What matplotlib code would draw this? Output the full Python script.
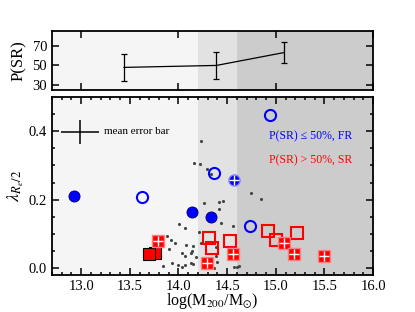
import matplotlib
matplotlib.use('Agg')
import matplotlib.pyplot as plt
import numpy as np

plt.rcParams['font.family'] = ['Liberation Serif', 'DejaVu Serif']
plt.rcParams['mathtext.fontset'] = 'stix'

# top panel: P(SR) per mass bin
psr_x = [13.44, 14.39, 15.08]
psr_y = [48, 50, 63]
psr_err = [14, 13.5, 11]

# bottom panel
fr_filled_x = [12.93, 14.14, 14.33]
fr_filled_y = [0.210, 0.163, 0.149]
fr_open_x = [13.63, 14.36, 14.94, 14.74]
fr_open_y = [0.208, 0.279, 0.447, 0.124]
fr_plus_x = [14.57]
fr_plus_y = [0.257]

sr_open_x = [14.92, 15.00, 15.22, 14.53, 14.31, 14.34]
sr_open_y = [0.109, 0.082, 0.104, 0.079, 0.089, 0.060]
sr_plus_x = [15.08, 15.19, 15.50, 14.56, 14.29, 13.79]
sr_plus_y = [0.074, 0.040, 0.036, 0.041, 0.016, 0.079]
sr_filled_x = [13.76, 13.70]
sr_filled_y = [0.043, 0.041]

dots_x = [14.228, 14.159, 14.220, 14.295, 14.330, 14.744, 14.850, 14.261, 14.421,
          14.455, 14.421, 14.432, 14.560, 14.006, 14.067, 14.210, 13.877, 13.809,
          13.928, 13.962, 14.074, 14.149, 14.231, 13.904, 14.142, 14.040, 14.067,
          14.125, 14.180, 14.381, 14.384, 14.397, 13.932, 13.999, 14.040, 14.064,
          14.125, 14.149, 13.843, 14.330, 14.363, 14.568, 14.619, 14.603]
dots_y = [0.371, 0.306, 0.305, 0.290, 0.274, 0.221, 0.202, 0.190, 0.192,
          0.195, 0.174, 0.132, 0.124, 0.128, 0.118, 0.105, 0.094, 0.082,
          0.083, 0.073, 0.068, 0.066, 0.074, 0.055, 0.051, 0.045, 0.035,
          0.043, 0.034, 0.063, 0.035, 0.019, 0.015, 0.010, 0.004, 0.009,
          0.016, 0.012, 0.006, 0.002, -0.001, 0.002, 0.007, 0.003]

mean_err_x, mean_err_y = 12.99, 0.398
mean_err_dx, mean_err_dy = 0.195, 0.034

bins = [14.2, 14.6]
blue = '#0000ff'
red = '#ff0000'

fig = plt.figure(figsize=(4.15, 3.12), dpi=100)
ax1 = fig.add_axes([0.1253, 0.7115, 0.7737, 0.1891])
ax2 = fig.add_axes([0.1253, 0.1186, 0.7737, 0.5704])

for ax in (ax1, ax2):
    ax.set_facecolor('#f5f5f5')
    ax.axvspan(bins[0], bins[1], color='#e2e2e2', lw=0, zorder=0)
    ax.axvspan(bins[1], 16.0, color='#cccccc', lw=0, zorder=0)
    ax.set_xlim(12.7, 16.0)
    for s in ax.spines.values():
        s.set_linewidth(1.3)
    ax.tick_params(which='both', direction='in', top=True, right=True,
                   labelsize=10.5, width=1.1)
    ax.tick_params(which='major', length=5)
    ax.tick_params(which='minor', length=2.5)

# top panel
ax1.errorbar(psr_x, psr_y, yerr=psr_err, color='k', lw=0.9, capsize=2.5,
             elinewidth=0.9, capthick=0.9)
ax1.set_ylim(25, 85)
ax1.set_yticks([30, 50, 70])
ax1.set_xticks([13, 14, 15, 16])
ax1.tick_params(labelbottom=False)
ax1.set_ylabel('P(SR)', fontsize=12, labelpad=4)

# bottom panel
ax2.scatter(dots_x, dots_y, s=5, color='#444444', zorder=2, lw=0)

ax2.plot(sr_filled_x, sr_filled_y, 's', ms=8.5, mfc=red, mec='k', mew=0.8, ls='none', zorder=3)
ax2.plot(sr_open_x, sr_open_y, 's', ms=8.5, mfc='none', mec=red, mew=1.5, ls='none', zorder=3)
ax2.plot(sr_plus_x, sr_plus_y, 's', ms=8.5, mfc=red, mec='#ff8080', mew=1.0, ls='none', zorder=3)
ax2.plot(sr_plus_x, sr_plus_y, '+', ms=7, mec='white', mew=1.0, ls='none', zorder=4)

ax2.plot(fr_filled_x, fr_filled_y, 'o', ms=8, mfc=blue, mec='#000060', mew=0.6, ls='none', zorder=3)
ax2.plot(fr_open_x, fr_open_y, 'o', ms=8, mfc='none', mec=blue, mew=1.5, ls='none', zorder=3)
ax2.plot(fr_plus_x, fr_plus_y, 'o', ms=8, mfc=blue, mec='#8080ff', mew=1.0, ls='none', zorder=3)
ax2.plot(fr_plus_x, fr_plus_y, '+', ms=7, mec='white', mew=1.0, ls='none', zorder=4)

ax2.errorbar([mean_err_x], [mean_err_y], xerr=mean_err_dx, yerr=mean_err_dy,
             color='k', lw=1.1, capsize=0)
ax2.text(mean_err_x + 0.24, mean_err_y, 'mean error bar', fontsize=8, va='center')

ax2.text(14.93, 0.386, 'P(SR) \u2264 50%, FR', color=blue, fontsize=8.5, va='center')
ax2.text(14.93, 0.316, 'P(SR) > 50%, SR', color=red, fontsize=8.5, va='center')

ax2.set_ylim(-0.02, 0.5)
ax2.set_yticks([0.0, 0.2, 0.4])
ax2.set_yticks(np.arange(0.0, 0.5, 0.05), minor=True)
ax2.set_xticks([13.0, 13.5, 14.0, 14.5, 15.0, 15.5, 16.0])
ax2.set_xticks(np.arange(12.7, 16.0, 0.1), minor=True)
ax2.set_xticklabels(['13.0', '13.5', '14.0', '14.5', '15.0', '15.5', '16.0'])
ax2.set_yticklabels(['0.0', '0.2', '0.4'])
ax2.set_xlabel(r'log(M$_{200}$/M$_{\odot}$)', fontsize=11.5, labelpad=-1)
ax2.set_ylabel(r'$\lambda_{R_e/2}$', fontsize=13, labelpad=2)

fig.savefig('out.png', dpi=100)
